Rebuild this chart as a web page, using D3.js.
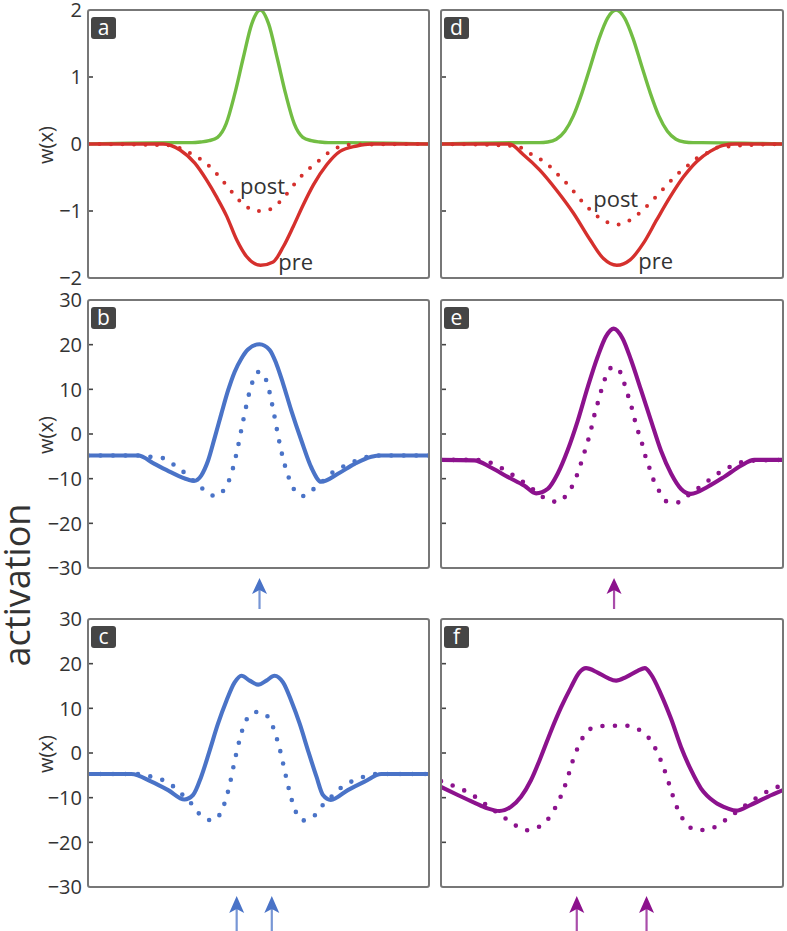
<!DOCTYPE html>
<html>
<head>
<meta charset="utf-8">
<script src="https://cdn.jsdelivr.net/npm/d3@7"></script>
<style>
  body { margin: 0; background: #fff; }
  svg { display: block; }
  text { font-family: "Open Sans", "Noto Sans", sans-serif; }
</style>
</head>
<body>
<svg id="chart" width="787" height="931"></svg>
<script>
// ---------------- DATA ----------------
// x is position along the neural field (0..100), y is w(x) / activation

// Panel a
const aGreenX = [0, 25.5, 28, 30.5, 33, 35.5, 38, 40.5, 43, 45.5, 48, 50.5, 53, 55.5, 58, 60.5, 63, 65.5, 68, 70.5, 73, 75.5, 100];
const aGreenY = [0, 0.02, 0.02, 0.02, 0.03, 0.05, 0.10, 0.30, 0.74, 1.28, 1.79, 2.0, 1.79, 1.28, 0.74, 0.30, 0.10, 0.05, 0.03, 0.02, 0.02, 0.02, 0];
const aPreX = [0, 22, 27, 31.4, 34.8, 37.7, 40.7, 43.6, 46.5, 50.6, 54.3, 57.3, 60.2, 63.1, 66.1, 70.0, 73.9, 78.8, 83, 100];
const aPreY = [0, 0, -0.09, -0.29, -0.54, -0.79, -1.08, -1.43, -1.68, -1.81, -1.76, -1.53, -1.23, -0.91, -0.61, -0.31, -0.11, -0.03, 0, 0];
const aPostX = [0, 24, 29.7, 33.1, 36.0, 38.7, 41.1, 43.6, 46.3, 49.8, 53.6, 56.5, 59.0, 61.3, 63.9, 66.8, 69.7, 72.9, 77, 100];
const aPostY = [0, -0.02, -0.13, -0.23, -0.35, -0.50, -0.65, -0.80, -0.93, -1.0, -0.97, -0.85, -0.70, -0.55, -0.41, -0.29, -0.16, -0.06, -0.01, 0];

// Panel d
const dGreenX = [0, 26.2, 28.7, 31.2, 33.7, 36.2, 38.7, 41.2, 43.7, 46.2, 48.7, 51.2, 53.7, 56.2, 58.7, 61.2, 63.7, 66.2, 68.7, 71.2, 73.7, 76.2, 100];
const dGreenY = [0, 0.02, 0.02, 0.03, 0.07, 0.19, 0.42, 0.76, 1.16, 1.57, 1.88, 2.0, 1.88, 1.57, 1.16, 0.76, 0.42, 0.19, 0.07, 0.03, 0.02, 0.02, 0];
const dPreX = [0, 20, 24.1, 28.9, 33.8, 38.7, 43.6, 47.5, 51.4, 55.3, 59.2, 63.1, 67.0, 70.9, 74.8, 78.7, 82.5, 86, 100];
const dPreY = [0, 0, -0.16, -0.39, -0.69, -1.03, -1.43, -1.71, -1.81, -1.73, -1.48, -1.13, -0.79, -0.49, -0.26, -0.11, -0.02, 0, 0];
const dPostX = [0, 22, 26.0, 29.4, 32.4, 35.0, 37.7, 40.1, 42.6, 45.3, 48.2, 51.8, 55.5, 58.5, 61.1, 63.7, 66.3, 68.9, 71.8, 74.8, 77.9, 81, 100];
const dPostY = [0, -0.03, -0.14, -0.24, -0.36, -0.50, -0.64, -0.79, -0.93, -1.06, -1.16, -1.20, -1.13, -1.01, -0.88, -0.74, -0.60, -0.46, -0.34, -0.21, -0.13, -0.05, 0];

// Panel b
const bSolidX = [0, 14.7, 19.5, 24.4, 29.3, 31.1, 33.2, 35.2, 37.2, 39.1, 41.1, 43.0, 45.0, 46.9, 50.3, 53.3, 55.2, 57.2, 59.6, 62.6, 65.5, 68.4, 73.3, 78.2, 83.1, 86, 100];
const bSolidY = [-4.8, -4.8, -6.7, -8.6, -10.2, -10.5, -9.3, -6.0, -0.7, 4.5, 9.8, 13.9, 16.9, 18.9, 20.1, 18.8, 15.8, 11.3, 5.3, -1.5, -7.5, -10.7, -8.9, -6.7, -5.1, -4.8, -4.8];
const bDotX = [0, 15, 18.1, 22.0, 25.2, 28.2, 31, 33.7, 37.3, 40.1, 41.7, 43.6, 45.4, 47.5, 48.6, 50.0, 51.3, 52.8, 54.4, 55.8, 57.4, 58.5, 59.8, 63.0, 65.5, 68.5, 71.2, 74.3, 77.9, 81.1, 85, 100];
const bDotY = [-4.8, -4.8, -5.1, -5.4, -6.9, -8.6, -10.5, -12.3, -13.9, -12.2, -9.7, -4.2, 2.6, 9.8, 12.4, 13.9, 13.5, 10.7, 5.1, -0.6, -6.1, -8.9, -11.6, -13.9, -12.7, -10.8, -8.9, -7.5, -6.2, -5.3, -4.8, -4.8];

// Panel c
const cSolidX = [0, 12.7, 18.6, 23.5, 28.3, 30.8, 33.2, 35.7, 38.1, 40.6, 43.0, 45.0, 47.4, 49.9, 52.3, 54.7, 57.2, 59.6, 62.1, 64.5, 67.0, 68.9, 71.2, 76.2, 81.1, 86.0, 100];
const cSolidY = [-4.7, -4.7, -6.4, -8.3, -10.4, -9.4, -5.3, 0.6, 6.5, 11.7, 15.8, 17.3, 16.2, 15.3, 16.2, 17.3, 15.8, 11.7, 6.5, 0.6, -5.3, -9.4, -10.5, -8.3, -6.4, -4.7, -4.7];
const cDotX = [0, 14, 18.6, 22.3, 25.4, 28.3, 30.9, 33.2, 36.6, 39.1, 40.4, 41.4, 42.2, 43.0, 43.8, 44.7, 45.9, 48.1, 49.8, 51.5, 53.8, 55.1, 56.2, 57.0, 57.8, 58.7, 59.6, 60.8, 63.0, 66.3, 68.7, 71.4, 74.3, 77.5, 80.9, 85, 100];
const cDotY = [-4.7, -4.7, -5.3, -6.2, -7.7, -9.8, -11.8, -14.1, -15.1, -13.1, -10.4, -7.6, -4.8, -1.8, 0.9, 3.7, 6.5, 8.9, 9.2, 8.9, 6.7, 3.9, 1.0, -1.6, -4.4, -7.4, -10.1, -12.9, -15.1, -14.1, -11.8, -9.8, -7.7, -6.3, -5.3, -4.7, -4.7];

// Panel e
const eSolidX = [0, 9.7, 14.6, 19.5, 24.4, 27.8, 31.2, 34.1, 37.0, 40.0, 42.9, 45.8, 48.2, 50.5, 53.1, 55.6, 58.5, 61.4, 64.3, 67.3, 70.2, 73.1, 78.0, 82.8, 87.7, 91.6, 100];
const eSolidY = [-5.8, -5.9, -7.5, -9.6, -11.6, -13.3, -12.3, -8.9, -3.7, 3.0, 10.5, 17.3, 21.8, 23.6, 21.4, 16.5, 9.8, 3.0, -3.7, -8.9, -12.3, -13.4, -11.8, -9.6, -7.1, -5.8, -5.8];
const eDotX = [0, 10, 15.1, 18.5, 21.6, 24.9, 28, 31.0, 34.3, 37.0, 39.0, 40.3, 41.5, 42.6, 43.7, 44.5, 45.5, 46.5, 47.6, 49.0, 50.4, 51.7, 53.3, 54.4, 55.6, 56.5, 57.5, 58.7, 59.7, 60.9, 62.1, 63.8, 66.3, 69.5, 72.5, 75.8, 78.8, 81.9, 85.3, 90, 100];
const eDotY = [-5.8, -5.8, -6.6, -8.0, -9.5, -11.2, -13.0, -14.7, -15.2, -13.3, -10.7, -8.0, -5.2, -2.4, 0.4, 3.2, 6.0, 8.8, 11.6, 14.3, 15.0, 14.7, 12.0, 9.3, 6.4, 3.6, 0.9, -1.9, -4.8, -7.5, -10.2, -12.8, -15.2, -15.3, -13.6, -11.8, -10.1, -8.4, -7.1, -6.0, -5.8];

// Panel f
const fSolidX = [0, 4.9, 9.7, 13.6, 17.1, 20.5, 23.4, 26.3, 29.2, 32.2, 35.1, 38.0, 40.4, 42.4, 45.8, 48.7, 51.2, 54.1, 57.5, 59.6, 61.4, 64.3, 67.3, 70.2, 73.1, 76.0, 79.9, 83.8, 86.3, 90.6, 95.5, 100];
const fSolidY = [-7.6, -9.4, -11.1, -12.4, -13.0, -12.0, -9.8, -6.1, -0.9, 5.0, 10.2, 14.7, 18.0, 19.0, 18.0, 16.8, 16.2, 17.0, 18.4, 19.0, 17.6, 13.2, 7.6, 1.3, -3.8, -7.9, -10.9, -12.4, -12.9, -11.6, -9.8, -8.3];
const fDotX = [0, 2.4, 6.6, 10.2, 13.9, 17.3, 20.8, 24.9, 28.9, 32.0, 34.1, 35.8, 37.2, 38.5, 40.0, 42.1, 45.4, 49.9, 54.3, 58.3, 61.4, 63.5, 65.1, 66.5, 67.8, 69.4, 71.6, 75.0, 79.4, 83.0, 86.6, 90.2, 93.8, 97.7, 100];
const fDotY = [-6.3, -7.0, -8.3, -9.9, -12.0, -13.8, -15.7, -17.3, -16.4, -14.1, -11.2, -8.3, -5.1, -1.8, 1.2, 4.2, 5.9, 6.1, 6.1, 5.0, 2.7, -0.3, -3.3, -6.5, -9.6, -12.9, -15.7, -17.3, -16.8, -15.1, -13.1, -11.1, -9.3, -7.8, -7.2];

// Input arrows (stimulus positions)
const arrowsB = [50.3];
const arrowsC = [43.6, 53.9];
const arrowsE = [50.6];
const arrowsF = [39.7, 60.1];

// Axis ticks / labels
const weightTicks = [2, 1, 0, -1, -2];
const activTicks = [30, 20, 10, 0, -10, -20, -30];
const curveNames = ["post", "pre"];
const aNameX = [44.6, 55.8], aNameY = [-0.75, -1.88];
const dNameX = [44.5, 57.7], dNameY = [-0.94, -1.86];

// ---------------- STYLE / LAYOUT ----------------
const GREEN = "#72bd43", RED = "#d5302d", BLUE = "#4a73c7", PURPLE = "#8c128d";
const colX = [[88, 429], [441, 783]];
const rowY = [[10, 278], [300, 568], [619, 887]];
const arrowGeom = { 1: { tip: 578, head: 16, end: 609 }, 2: { tip: 896, head: 17, end: 931 } };

const zip = (xs, ys) => xs.map((v, i) => [v, ys[i]]);

const panels = [
  { letter: "a", col: 0, row: 0, domain: [-2, 2], ticks: weightTicks, labels: true,
    series: [{ d: zip(aGreenX, aGreenY), c: GREEN }, { d: zip(aPostX, aPostY), c: RED, dot: true }, { d: zip(aPreX, aPreY), c: RED }],
    names: zip(aNameX, aNameY) },
  { letter: "b", col: 0, row: 1, domain: [-30, 30], ticks: activTicks, labels: true,
    series: [{ d: zip(bDotX, bDotY), c: BLUE, dot: true }, { d: zip(bSolidX, bSolidY), c: BLUE }], arrows: arrowsB, ac: BLUE },
  { letter: "c", col: 0, row: 2, domain: [-30, 30], ticks: activTicks, labels: true,
    series: [{ d: zip(cDotX, cDotY), c: BLUE, dot: true }, { d: zip(cSolidX, cSolidY), c: BLUE }], arrows: arrowsC, ac: BLUE },
  { letter: "d", col: 1, row: 0, domain: [-2, 2], ticks: weightTicks, labels: false,
    series: [{ d: zip(dGreenX, dGreenY), c: GREEN }, { d: zip(dPostX, dPostY), c: RED, dot: true }, { d: zip(dPreX, dPreY), c: RED }],
    names: zip(dNameX, dNameY) },
  { letter: "e", col: 1, row: 1, domain: [-30, 30], ticks: activTicks, labels: false,
    series: [{ d: zip(eDotX, eDotY), c: PURPLE, dot: true }, { d: zip(eSolidX, eSolidY), c: PURPLE }], arrows: arrowsE, ac: PURPLE },
  { letter: "f", col: 1, row: 2, domain: [-30, 30], ticks: activTicks, labels: false,
    series: [{ d: zip(fDotX, fDotY), c: PURPLE, dot: true }, { d: zip(fSolidX, fSolidY), c: PURPLE }], arrows: arrowsF, ac: PURPLE }
];

const svg = d3.select("#chart");
const defs = svg.append("defs");
const fmt = v => (v < 0 ? "\u2212" + Math.abs(v) : String(v));

panels.forEach((p, i) => {
  const [x0, x1] = colX[p.col], [y0, y1] = rowY[p.row];
  const x = d3.scaleLinear().domain([0, 100]).range([x0, x1]);
  const y = d3.scaleLinear().domain(p.domain).range([y1, y0]);
  const g = svg.append("g");

  defs.append("clipPath").attr("id", "clip" + i)
    .append("rect").attr("x", x0).attr("y", y0).attr("width", x1 - x0).attr("height", y1 - y0);

  // inner left ticks
  g.selectAll(".tk").data(p.ticks.filter(t => t !== p.domain[0] && t !== p.domain[1])).join("line")
    .attr("x1", x0).attr("x2", x0 + 5).attr("y1", d => y(d)).attr("y2", d => y(d))
    .attr("stroke", "#444").attr("stroke-width", 1.6);

  // tick labels (left column only)
  if (p.labels) {
    g.selectAll(".tl").data(p.ticks).join("text")
      .attr("x", x0 - 6).attr("y", d => y(d)).attr("dy", "0.36em")
      .attr("text-anchor", "end").attr("font-size", 20).attr("fill", "#333")
      .text(fmt);
    g.append("text")
      .attr("transform", `translate(53,${y(0) + 1}) rotate(-90)`)
      .attr("text-anchor", "middle").attr("font-size", 20).attr("fill", "#333")
      .text("w(x)");
  }

  const line = d3.line().x(d => x(d[0])).y(d => y(d[1])).curve(d3.curveMonotoneX);
  const lg = g.append("g").attr("clip-path", `url(#clip${i})`);
  p.series.forEach(s => {
    lg.append("path").attr("d", line(s.d)).attr("fill", "none")
      .attr("stroke", s.c)
      .attr("stroke-width", s.dot ? (p.row === 0 ? 4 : 4.6) : (p.row === 0 ? 3.4 : 4.1))
      .attr("stroke-linecap", "round").attr("stroke-linejoin", "round")
      .attr("stroke-dasharray", s.dot ? (p.row === 0 ? "0 11.5" : "0 12.5") : null);
  });

  // curve names
  if (p.names) {
    g.selectAll(".nm").data(p.names).join("text")
      .attr("x", d => x(d[0])).attr("y", d => y(d[1]))
      .attr("font-size", 22).attr("fill", "#333")
      .text((d, k) => curveNames[k]);
  }

  // frame
  g.append("rect").attr("x", x0).attr("y", y0).attr("width", x1 - x0).attr("height", y1 - y0)
    .attr("rx", 2).attr("fill", "none").attr("stroke", "#777").attr("stroke-width", 2);

  // panel letter box
  g.append("rect").attr("x", x0 + 3).attr("y", y0 + 7).attr("width", 25).attr("height", 22).attr("rx", 3)
    .attr("fill", "#454545");
  g.append("text").attr("x", x0 + 15.5).attr("y", y0 + 25).attr("text-anchor", "middle")
    .attr("font-size", 21).attr("fill", "#fff").text(p.letter);

  // input arrows
  if (p.arrows) {
    const ag = arrowGeom[p.row];
    p.arrows.forEach(a => {
      const ax = x(a);
      g.append("line").attr("x1", ax).attr("x2", ax).attr("y1", ag.tip + ag.head - 4).attr("y2", ag.end)
        .attr("stroke", p.ac).attr("stroke-opacity", 0.75).attr("stroke-width", 2.2);
      g.append("path")
        .attr("d", `M${ax},${ag.tip} L${ax + 7.5},${ag.tip + ag.head} L${ax},${ag.tip + ag.head - 4} L${ax - 7.5},${ag.tip + ag.head} Z`)
        .attr("fill", p.ac);
    });
  }
});

// big "activation" label
svg.append("text")
  .attr("transform", "translate(30,585) rotate(-90)")
  .attr("text-anchor", "middle").attr("font-size", 36).attr("fill", "#333")
  .text("activation");
</script>
</body>
</html>
